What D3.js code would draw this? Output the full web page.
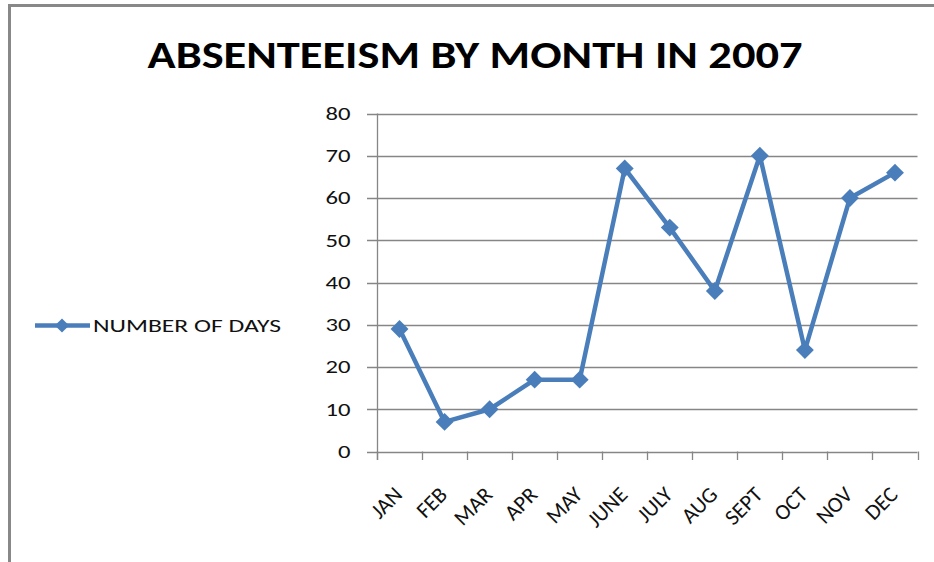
<!DOCTYPE html>
<html>
<head>
<meta charset="utf-8">
<script src="https://cdn.jsdelivr.net/npm/d3@7"></script>
<style>
  body { margin: 0; background: #fff; }
  svg { display: block; }
</style>
</head>
<body>
<div id="chart"></div>
<script>
// absenteeism data
const months = ['JAN','FEB','MAR','APR','MAY','JUNE','JULY','AUG','SEPT','OCT','NOV','DEC'];
const days = [29, 7, 10, 17, 17, 67, 53, 38, 70, 24, 60, 66];
const yTicks = [0, 10, 20, 30, 40, 50, 60, 70, 80];
const seriesName = 'NUMBER OF DAYS';
const title = 'ABSENTEEISM BY MONTH IN 2007';

const W = 934, H = 562;
const blue = '#4a7ebb', grid = '#868686';
const font = 'Carlito, Calibri, Lato, "Open Sans", sans-serif';

const svg = d3.select('#chart').append('svg')
  .attr('width', W)
  .attr('height', H);

// chart frame (only the top and left edges show)
svg.append('rect')
  .attr('x', 9.5).attr('y', 5.5)
  .attr('width', W + 20).attr('height', H + 20)
  .attr('fill', 'none')
  .attr('stroke', '#888')
  .attr('stroke-width', 3);

svg.append('text')
  .attr('x', 475).attr('y', 67.5)
  .attr('text-anchor', 'middle')
  .attr('font-family', font)
  .attr('font-weight', 'bold')
  .attr('font-size', 39)
  .attr('textLength', 655)
  .attr('lengthAdjust', 'spacingAndGlyphs')
  .text(title);

const x = d3.scaleBand().domain(months).range([377, 917.5]);
const y = d3.scaleLinear().domain([0, 80]).range([451.5, 113.5]);

// horizontal gridlines with left tick stubs
svg.append('g').selectAll('line')
  .data(yTicks)
  .join('line')
  .attr('x1', 367).attr('x2', 917.5)
  .attr('y1', d => Math.round(y(d)) + 0.5)
  .attr('y2', d => Math.round(y(d)) + 0.5)
  .attr('stroke', grid)
  .attr('stroke-width', 1.3);

// y axis line
svg.append('line')
  .attr('x1', 377.5).attr('x2', 377.5)
  .attr('y1', y(80)).attr('y2', 460)
  .attr('stroke', grid).attr('stroke-width', 1.3);

// x tick marks at band edges
const edges = months.map(m => x(m)).concat([x.range()[1]]);
svg.append('g').selectAll('line')
  .data(edges)
  .join('line')
  .attr('x1', d => Math.round(d) + 0.5).attr('x2', d => Math.round(d) + 0.5)
  .attr('y1', y(0)).attr('y2', 460)
  .attr('stroke', grid).attr('stroke-width', 1.3);

// the source picture is a little stretched sideways, so widen the digits
svg.append('g').selectAll('text')
  .data(yTicks)
  .join('text')
  .attr('x', 350.5)
  .attr('y', d => y(d))
  .attr('dy', '0.35em')
  .attr('text-anchor', 'end')
  .attr('font-family', font)
  .attr('font-size', 18)
  .attr('fill', '#111')
  .attr('textLength', d => String(d).length * 12.5)
  .attr('lengthAdjust', 'spacingAndGlyphs')
  .text(d => d);

const cx = m => x(m) + x.bandwidth() / 2;

svg.append('g').selectAll('text')
  .data(months)
  .join('text')
  .attr('transform', d => `translate(${cx(d) + 4},${496}) rotate(-45)`)
  .attr('text-anchor', 'end')
  .attr('font-family', font)
  .attr('font-size', 22)
  .attr('fill', '#111')
  .text(d => d);

const pts = months.map((m, i) => ({ m: m, v: days[i] }));

svg.append('path')
  .datum(pts)
  .attr('d', d3.line().x(d => cx(d.m)).y(d => y(d.v)))
  .attr('fill', 'none')
  .attr('stroke', blue)
  .attr('stroke-width', 4.5)
  .attr('stroke-linejoin', 'round');

svg.append('g').selectAll('path')
  .data(pts)
  .join('path')
  .attr('transform', d => `translate(${cx(d.m)},${y(d.v)}) rotate(45)`)
  .attr('d', d3.symbol().type(d3.symbolSquare).size(160))
  .attr('fill', blue);

// legend
const lg = svg.append('g').attr('transform', 'translate(35,325.5)');
lg.append('line')
  .attr('x1', 0).attr('x2', 55)
  .attr('stroke', blue).attr('stroke-width', 4.5);
lg.append('path')
  .attr('transform', 'translate(27,0) rotate(45)')
  .attr('d', d3.symbol().type(d3.symbolSquare).size(100))
  .attr('fill', blue);
lg.append('text')
  .attr('x', 58).attr('dy', '0.35em')
  .attr('font-family', font)
  .attr('font-size', 19)
  .attr('fill', '#111')
  .attr('textLength', 188)
  .attr('lengthAdjust', 'spacingAndGlyphs')
  .text(seriesName);
</script>
</body>
</html>
